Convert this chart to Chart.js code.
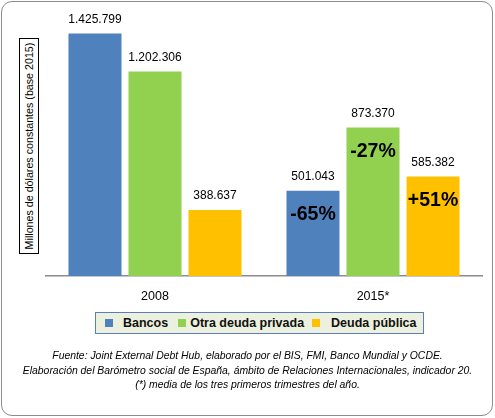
<!DOCTYPE html>
<html>
<head>
<meta charset="utf-8">
<script src="https://cdn.jsdelivr.net/npm/chart.js@4"></script>
<style>
  html, body { margin: 0; padding: 0; background: #fff; }
  #frame {
    position: absolute; left: 1px; top: 1px; width: 490px; height: 413px;
    border: 1.5px solid #8c8c8c; border-radius: 11px; background: #fff;
    font-family: 'Liberation Sans', Arial, sans-serif;
  }
  #wrap { position: absolute; left: 0; top: 0; width: 495px; height: 418px; }
  #chart { position: absolute; left: 0; top: 0; }
  #ytitle {
    position: absolute; left: 19px; top: 38px; width: 18px; height: 214px;
    border: 1px solid #000; background: #fff;
  }
  #ytitle span {
    position: absolute; left: 50%; top: 50%; white-space: nowrap;
    transform: translate(-50%, -50%) rotate(-90deg);
    font: 10.7px 'Liberation Sans', Arial, sans-serif; color: #000;
  }
  #legend {
    position: absolute; left: 95px; top: 312px; width: 327px; height: 20px;
    border: 1px solid #5b7fb5; background: #ebf1de;
    display: flex; align-items: center;
    font: bold 12.5px 'Liberation Sans', Arial, sans-serif; color: #111;
  }
  #legend .sw { display: inline-block; width: 8px; height: 8px; }
  #footer {
    position: absolute; left: 0; top: 349px; width: 495px; text-align: center;
    font: italic 10.4px 'Liberation Sans', Arial, sans-serif; color: #000; line-height: 14.5px;
  }
</style>
</head>
<body>
<div id="wrap">
  <div id="frame"></div>
  <canvas id="chart" width="495" height="418"></canvas>
  <div id="ytitle"><span>Millones de dólares constantes (base 2015)</span></div>
  <div id="legend"></div>
  <div id="footer">Fuente: Joint External Debt Hub, elaborado por el BIS, FMI, Banco Mundial y OCDE.<br>Elaboración del Barómetro social de España, ámbito de Relaciones Internacionales, indicador 20.<br>(*) media de los tres primeros trimestres del año.</div>
</div>
<script>
// data
const years = ['2008', '2015*'];
const seriesNames = ['Bancos', 'Otra deuda privada', 'Deuda pública'];
const seriesColors = ['#4f81bd', '#92d050', '#ffc000'];
const bancos = [1425799, 501043];
const otraDeuda = [1202306, 873370];
const deudaPublica = [388637, 585382];
// change 2008 -> 2015, printed inside the 2015 bars
const changeLabels = ['-65%', '-27%', '+51%'];

const fmt = (v) => String(v).replace(/\B(?=(\d{3})+(?!\d))/g, '.');

const labelsPlugin = {
  id: 'barLabels',
  afterDatasetsDraw(chart) {
    const ctx = chart.ctx;
    ctx.save();
    ctx.textAlign = 'center';
    chart.data.datasets.forEach((ds, i) => {
      const meta = chart.getDatasetMeta(i);
      meta.data.forEach((bar, j) => {
        ctx.fillStyle = '#000';
        ctx.font = '12px "Liberation Sans", Arial, sans-serif';
        ctx.textBaseline = 'middle';
        ctx.fillText(fmt(ds.data[j]), bar.x, bar.y - 14);
        if (j === 1) {
          ctx.font = 'bold 19.5px "Liberation Sans", Arial, sans-serif';
          ctx.fillText(changeLabels[i], bar.x, bar.y + 24);
        }
      });
    });
    ctx.restore();
  }
};

// legend built from the series arrays
const legendEl = document.getElementById('legend');
const swGapBefore = [9, 10, 8];
const swGapAfter = [10, 4, 11];
seriesNames.forEach((name, i) => {
  const sw = document.createElement('span');
  sw.className = 'sw';
  sw.style.background = seriesColors[i];
  sw.style.marginLeft = swGapBefore[i] + 'px';
  sw.style.marginRight = swGapAfter[i] + 'px';
  const tx = document.createElement('span');
  tx.textContent = name;
  legendEl.appendChild(sw);
  legendEl.appendChild(tx);
});

new Chart(document.getElementById('chart'), {
  type: 'bar',
  data: {
    labels: years,
    datasets: [
      { label: seriesNames[0], data: bancos, backgroundColor: seriesColors[0] },
      { label: seriesNames[1], data: otraDeuda, backgroundColor: seriesColors[1] },
      { label: seriesNames[2], data: deudaPublica, backgroundColor: seriesColors[2] },
    ],
  },
  options: {
    responsive: false,
    animation: false,
    devicePixelRatio: 1,
    categoryPercentage: 0.826,
    barPercentage: 0.883,
    layout: { padding: { left: 46, right: 13, top: 4, bottom: 112 } },
    plugins: { legend: { display: false }, tooltip: { enabled: false } },
    scales: {
      x: {
        grid: { display: false, drawTicks: false },
        border: { display: true, color: '#8c8c8c', width: 1.5 },
        ticks: { color: '#000', padding: 13, font: { size: 12.5, family: "'Liberation Sans', Arial, sans-serif" } },
        afterFit: (s) => { s.height = 30; },
      },
      y: { display: false, min: 0, max: 1600000 },
    },
  },
  plugins: [labelsPlugin],
});
</script>
</body>
</html>
